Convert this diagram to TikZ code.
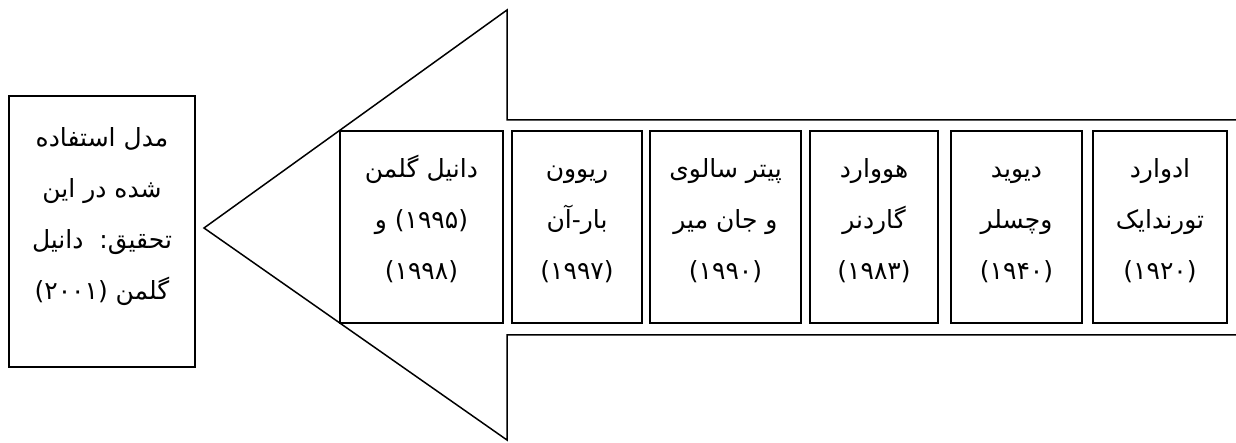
\documentclass[tikz,border=0pt]{standalone}
\usepackage{fontspec}
\newfontfamily\arabicfont[Script=Arabic]{DejaVu Sans}
\TeXXeTstate=1
\newcommand{\fa}[1]{\strut\beginR #1\endR}

\begin{document}
\begin{tikzpicture}[
    x = 0.5pt, y = 0.5pt,
    every node/.style = {font = \arabicfont\fontsize{12.5}{25.5}\selectfont},
    namebox/.style = {draw, line width = 1pt, minimum height = 96pt, inner sep = 0pt},
    names/.style = {align = center, inner sep = 0pt}]

\useasboundingbox (0,0) rectangle (1236,443);

% arrow outline, body runs off to the right
\draw[line width = 0.75pt] (1236,323) -- (507,323) -- (507,433) -- (204,215)
	  -- (507,3) -- (507,108) -- (1236,108);

% boxes inside the arrow
\node[namebox, minimum width = 81.5pt] (b1) at (421.5,216) {};
\node[namebox, minimum width = 65pt]   (b2) at (577,216) {};
\node[namebox, minimum width = 75.5pt] (b3) at (725.5,216) {};
\node[namebox, minimum width = 64pt]   (b4) at (874,216) {};
\node[namebox, minimum width = 65.5pt] (b5) at (1016.5,216) {};
\node[namebox, minimum width = 67pt]   (b6) at (1160,216) {};

\node[names] (t1) at ([yshift = 4.5pt]b1.center) {\fa{دانیل گلمن}\\\fa{(۱۹۹۵) و}\\\fa{(۱۹۹۸)}};
\node[names] (t2) at ([yshift = 4.5pt]b2.center) {\fa{ریوون}\\\fa{بار-آن}\\\fa{(۱۹۹۷)}};
\node[names] (t3) at ([yshift = 4.5pt]b3.center) {\fa{پیتر سالوی}\\\fa{و جان میر}\\\fa{(۱۹۹۰)}};
\node[names] (t4) at ([yshift = 4.5pt]b4.center) {\fa{هووارد}\\\fa{گاردنر}\\\fa{(۱۹۸۳)}};
\node[names] (t5) at ([yshift = 4.5pt]b5.center) {\fa{دیوید}\\\fa{وچسلر}\\\fa{(۱۹۴۰)}};
\node[names] (t6) at ([yshift = 4.5pt]b6.center) {\fa{ادوارد}\\\fa{تورندایک}\\\fa{(۱۹۲۰)}};

% model box at the tip
\node[namebox, minimum width = 93pt, minimum height = 135.5pt] (model) at (102,211.5) {};
\node[names] (tm) at ([yshift = 9.5pt]model.center)
	  {\fa{مدل استفاده}\\\fa{شده در این}\\\fa{تحقیق:\ \ دانیل}\\\fa{گلمن (۲۰۰۱)}};
\end{tikzpicture}
\end{document}
